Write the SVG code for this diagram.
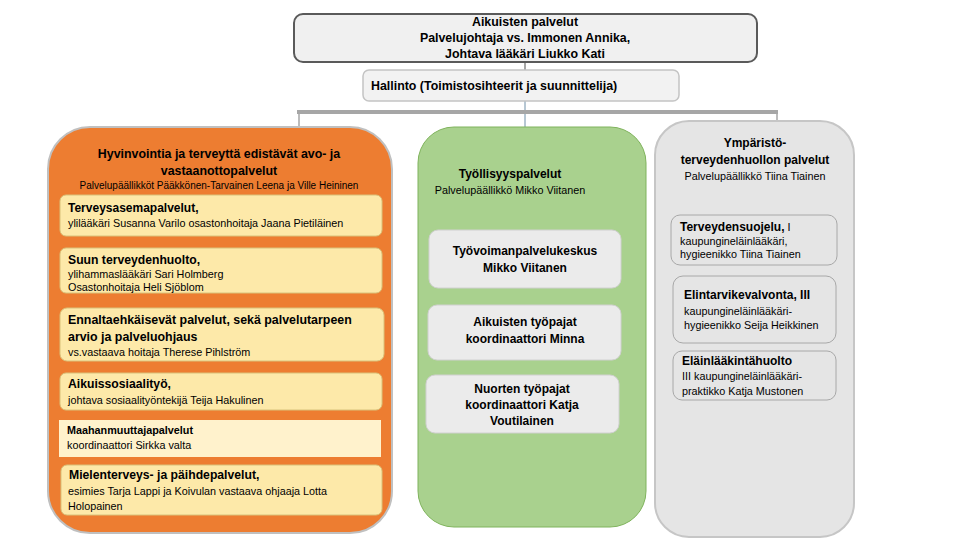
<svg xmlns="http://www.w3.org/2000/svg" width="960" height="540" viewBox="0 0 960 540">
<style>
text{font-family:"Liberation Sans",Arial,sans-serif;fill:#000}
.b{font-weight:bold}
.c{text-anchor:middle}
.h{font-size:12.4px}
.t12{font-size:12px}
.t122{font-size:12.2px}
.s{font-size:10.8px}
.s10{font-size:10px}
.yel{fill:#fde9a9;stroke:#d9c27a;stroke-width:1}
.gsub{fill:#ebebeb;stroke:#d0d0d0;stroke-width:1}
.rsub{fill:#e5e5e5;stroke:#a8a8a8;stroke-width:1}
.conn{stroke:#a6a6a6;fill:none}
</style>
<rect width="960" height="540" fill="#ffffff"/>
<g id="connectors">
<line class="conn" x1="525" y1="62" x2="525" y2="70" stroke-width="2"/>
<line x1="525" y1="101" x2="525" y2="127" stroke="#6f8fa8" stroke-width="1"/>
<line class="conn" x1="297" y1="112" x2="778" y2="112" stroke-width="4"/>
<line class="conn" x1="299" y1="112" x2="299" y2="127" stroke-width="1.5"/>
<line class="conn" x1="777" y1="112" x2="777" y2="121" stroke-width="1.5"/>
</g>
<g id="top">
<rect x="294" y="14" width="463" height="48" rx="9" fill="#f0f0f0" stroke="#5a5a5a" stroke-width="2"/>
<text class="b h c" x="525" y="26">Aikuisten palvelut</text>
<text class="b h c" x="525" y="42">Palvelujohtaja vs. Immonen Annika,</text>
<text class="b h c" x="525" y="58">Johtava lääkäri Liukko Kati</text>
</g>
<g id="hallinto">
<rect x="363" y="70" width="316" height="31" rx="6" fill="#f2f2f2" stroke="#c4c4c4" stroke-width="1.5"/>
<text class="b h" x="371" y="90">Hallinto (Toimistosihteerit ja suunnittelija)</text>
</g>
<g id="hyvinvointi">
<rect x="48" y="127" width="344" height="406" rx="42" fill="#ed7d31" stroke="#c0c0c0" stroke-width="2"/>
<text class="b h c" x="219" y="158">Hyvinvointia ja terveyttä edistävät avo- ja</text>
<text class="b h c" x="219" y="175">vastaanottopalvelut</text>
<text class="s10 c" x="219" y="189">Palvelupäällikköt Pääkkönen-Tarvainen Leena ja Ville Heininen</text>
</g>
<g id="terveysasema">
<rect class="yel" x="60" y="195" width="322" height="41" rx="6"/>
<text class="b t12" x="68" y="212">Terveysasemapalvelut,</text>
<text class="s" x="68" y="227">ylilääkäri Susanna Varilo  osastonhoitaja Jaana Pietiläinen</text>
</g>
<g id="suun">
<rect class="yel" x="60" y="248" width="322" height="45" rx="6"/>
<text class="b t122" x="68" y="264">Suun terveydenhuolto,</text>
<text class="s" x="68" y="278">ylihammaslääkäri Sari Holmberg</text>
<text class="s" x="68" y="291">Osastonhoitaja Heli Sjöblom</text>
</g>
<g id="ennalta">
<rect class="yel" x="60" y="308" width="324" height="53" rx="7"/>
<text class="b h" x="68" y="324">Ennaltaehkäisevät palvelut, sekä palvelutarpeen</text>
<text class="b h" x="68" y="341">arvio ja palveluohjaus</text>
<text class="s" x="68" y="356">vs.vastaava hoitaja Therese Pihlström</text>
</g>
<g id="aikuissosiaalityo">
<rect class="yel" x="60" y="373" width="322" height="37" rx="6"/>
<text class="b t122" x="68" y="388">Aikuissosiaalityö,</text>
<text class="s" x="68" y="404">johtava sosiaalityöntekijä Teija Hakulinen</text>
</g>
<g id="maahanmuutto">
<rect x="59" y="420" width="322" height="37" fill="#fff2cc"/>
<text class="b s" x="67" y="434">Maahanmuuttajapalvelut</text>
<text class="s" x="67" y="449">koordinaattori Sirkka valta</text>
</g>
<g id="mielenterveys">
<rect class="yel" x="61" y="465" width="321" height="50" rx="6"/>
<text class="b t122" x="69" y="479">Mielenterveys- ja päihdepalvelut,</text>
<text class="s" x="68" y="495"> esimies Tarja Lappi ja Koivulan vastaava ohjaaja Lotta</text>
<text class="s" x="68" y="510">Holopainen</text>
</g>
<g id="tyollisyys">
<rect x="418" y="127" width="228" height="400" rx="36" fill="#a9d18e" stroke="#7fb35c" stroke-width="1"/>
<text class="b t12 c" x="510" y="178">Työllisyyspalvelut</text>
<text class="s c" x="510" y="194">Palvelupäällikkö Mikko Viitanen</text>
</g>
<g id="tyovoima">
<rect class="gsub" x="429" y="230" width="192" height="58" rx="9"/>
<text class="b t12 c" x="525" y="255">Työvoimanpalvelukeskus</text>
<text class="b t12 c" x="525" y="272">Mikko Viitanen</text>
</g>
<g id="aikuisten-tyopajat">
<rect class="gsub" x="428" y="305" width="193" height="55" rx="9"/>
<text class="b t12 c" x="525" y="326">Aikuisten työpajat</text>
<text class="b t12 c" x="525" y="343">koordinaattori Minna</text>
</g>
<g id="nuorten-tyopajat">
<rect class="gsub" x="426" y="375" width="193" height="58" rx="9"/>
<text class="b t12 c" x="522" y="393">Nuorten työpajat</text>
<text class="b t12 c" x="522" y="409">koordinaattori  Katja</text>
<text class="b t12 c" x="522" y="425">Voutilainen</text>
</g>
<g id="ymparisto">
<rect x="655" y="121" width="199" height="416" rx="34" fill="#e5e5e5" stroke="#c6c6c6" stroke-width="2"/>
<text class="b t12 c" x="755" y="147">Ympäristö-</text>
<text class="b t12 c" x="755" y="164">terveydenhuollon palvelut</text>
<text class="s c" x="755" y="180">Palvelupäällikkö Tiina Tiainen</text>
</g>
<g id="terveydensuojelu">
<rect class="rsub" x="671" y="215" width="166" height="50" rx="9"/>
<text x="680" y="231" class="t12"><tspan class="b">Terveydensuojelu,</tspan><tspan font-size="10.8"> I</tspan></text>
<text class="s" x="680" y="245">kaupungineläinlääkäri,</text>
<text class="s" x="680" y="258">hygieenikko Tiina Tiainen</text>
</g>
<g id="elintarvike">
<rect class="rsub" x="673" y="276" width="163" height="67" rx="10"/>
<text class="b t12" x="684" y="299">Elintarvikevalvonta, III</text>
<text class="s" x="684" y="315">kaupungineläinlääkäri-</text>
<text class="s" x="684" y="329">hygieenikko Seija Heikkinen</text>
</g>
<g id="elainlaakinta">
<rect class="rsub" x="673" y="351" width="163" height="49" rx="9"/>
<text class="b t12" x="682" y="365">Eläinlääkintähuolto</text>
<text class="s" x="682" y="380">III kaupungineläinlääkäri-</text>
<text class="s" x="682" y="395">praktikko Katja Mustonen</text>
</g>
</svg>
